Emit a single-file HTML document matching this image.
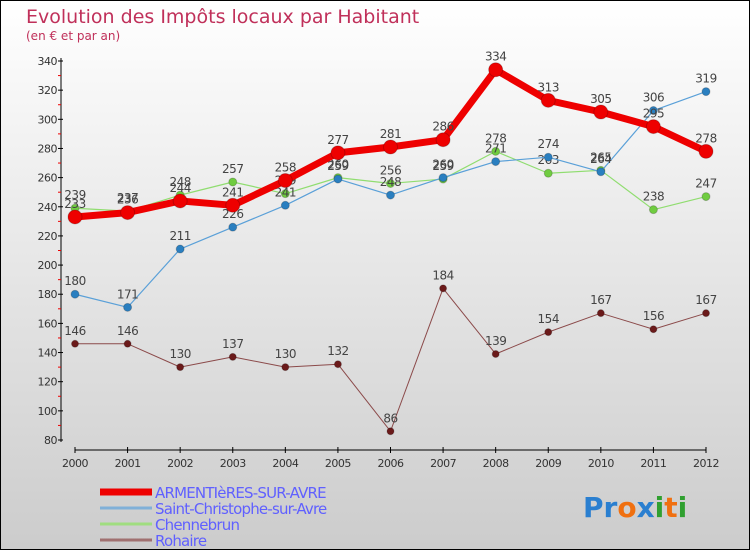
<!DOCTYPE html>
<html><head><meta charset="utf-8"><style>
body{margin:0;width:750px;height:550px;overflow:hidden}
svg{display:block}
text{font-family:"DejaVu Sans","Liberation Sans",sans-serif}
</style></head><body>
<svg id="chart" width="750" height="550">
<defs><linearGradient id="bg" x1="0" y1="0" x2="0" y2="1"><stop offset="0" stop-color="#ffffff"/><stop offset="1" stop-color="#cccccc"/></linearGradient></defs>
<rect x="0.5" y="0.5" width="749" height="549" fill="url(#bg)" stroke="#000"/>
<text x="26" y="23" font-size="19" fill="#c0305a">Evolution des Impôts locaux par Habitant</text>
<text x="26" y="40" font-size="12" fill="#c0305a">(en € et par an)</text>
<g id="axes"></g><g id="series"></g>
<g id="legend"></g>
<text x="583" y="517" font-size="28" font-weight="bold" font-family="Liberation Sans"><tspan fill="#2a7fd0">Pr</tspan><tspan fill="#f07010">o</tspan><tspan fill="#2a7fd0">x</tspan><tspan fill="#30a030">i</tspan><tspan fill="#f07010">t</tspan><tspan fill="#30a030">i</tspan></text>
</svg>
<script>
const years=[2000,2001,2002,2003,2004,2005,2006,2007,2008,2009,2010,2011,2012];
const armentieres=[233,236,244,241,258,277,281,286,334,313,305,295,278];
const saintChristophe=[180,171,211,226,241,259,248,260,271,274,264,306,319];
const chennebrun=[239,237,248,257,249,260,256,259,278,263,265,238,247];
const rohaire=[146,146,130,137,130,132,86,184,139,154,167,156,167];
const yTicks=[80,100,120,140,160,180,200,220,240,260,280,300,320,340];
const NS="http://www.w3.org/2000/svg";
const X=i=>75+i*(706-75)/12;
const Y=v=>440-(v-80)*(440-61)/260;
function mk(t,a,p){const e=document.createElementNS(NS,t);for(const k in a)e.setAttribute(k,a[k]);p.appendChild(e);return e;}
const ax=document.getElementById('axes');
let l=mk('line',{x1:61,y1:58,x2:61,y2:442,stroke:'#000'},ax);

l=mk('line',{x1:75,y1:450,x2:706,y2:450,stroke:'#000'},ax);

yTicks.forEach((v,i)=>{mk('line',{x1:58,y1:Y(v),x2:63,y2:Y(v),stroke:'#000'},ax);
 if(i<yTicks.length-1)mk('line',{x1:58,y1:Y(v+10),x2:61,y2:Y(v+10),stroke:'#e00'},ax);
 const t=mk('text',{x:57,y:Y(v)+4,'font-size':11,'text-anchor':'end',fill:'#333','letter-spacing':'-0.5'},ax);t.textContent=v;
 });
years.forEach((y,i)=>{mk('line',{x1:X(i),y1:447,x2:X(i),y2:453,stroke:'#000'},ax);
 const t=mk('text',{x:X(i),y:467,'font-size':11,'text-anchor':'middle',fill:'#333','letter-spacing':'-0.5'},ax);t.textContent=y;
 });
const sg=document.getElementById('series');
function draw(vals,name,color,dot,w,r){const g=mk('g',{},sg);
 
 mk('polyline',{points:vals.map((v,i)=>X(i)+','+Y(v)).join(' '),fill:'none',stroke:color,'stroke-width':w,'stroke-linejoin':'round'},g);
 vals.forEach((v,i)=>{const c=mk('circle',{cx:X(i),cy:Y(v),r:r,fill:dot,stroke:'rgba(0,0,0,0.2)'},g);
  
  const t=mk('text',{x:X(i),y:Y(v)-9,'font-size':12,'text-anchor':'middle',fill:'#444','letter-spacing':'-0.5'},g);t.textContent=v;
  });}
draw(rohaire,'rohaire','#8b4a4a','#6b1a1a',1,3.5);
draw(chennebrun,'chennebrun','#90dd70','#70cc40',1.2,4);
draw(saintChristophe,'saint-christophe','#5aa0d8','#2a7fc0',1.2,4);
draw(armentieres,'armentieres','#ee0000','#ee0000',7,7);
const lg=document.getElementById('legend');
[['ARMENTIèRES-SUR-AVRE','#ee0000',7],['Saint-Christophe-sur-Avre','#80b0d8',3],['Chennebrun','#a0dd80',3],['Rohaire','#a07070',3]].forEach((e,i)=>{
 const y=492+i*16;
 mk('line',{x1:100,y1:y,x2:152,y2:y,stroke:e[1],'stroke-width':e[2]},lg);
 const t=mk('text',{x:155,y:y+6,'font-size':15,fill:'#6060ff','letter-spacing':'-0.8'},lg);t.textContent=e[0];
 });
</script>
</body></html>
